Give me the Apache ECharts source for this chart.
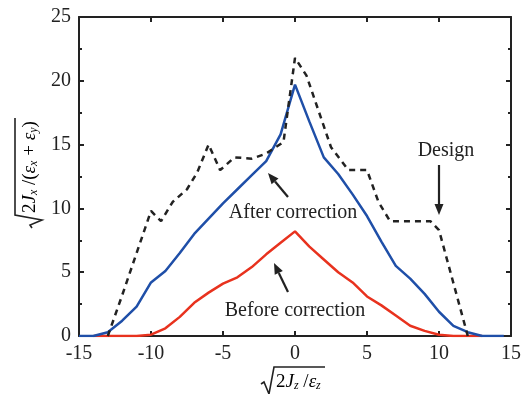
<!DOCTYPE html>
<html>
<head>
<meta charset="utf-8">
<script src="https://cdn.jsdelivr.net/npm/echarts@6/dist/echarts.min.js"></script>
<style>
  html, body { margin: 0; padding: 0; background: #fff; }
  #main { width: 524px; height: 394px; }
</style>
</head>
<body>
<div id="main"></div>
<script>
var X_TICKS = [-15, -10, -5, 0, 5, 10, 15];
var Y_TICKS = [0, 5, 10, 15, 20, 25];

// After correction (blue)
var afterX = [-15, -14, -13, -12, -11, -10, -9, -8, -7, -6, -5, -4, -3, -2, -1, 0, 1, 2, 3, 4, 5, 6, 7, 8, 9, 10, 11, 12, 13, 14.5];
var afterY = [0, 0, 0.3, 1.2, 2.3, 4.2, 5.1, 6.5, 8.0, 9.2, 10.4, 11.5, 12.6, 13.7, 15.8, 19.7, 16.8, 14.0, 12.7, 11.1, 9.4, 7.4, 5.5, 4.5, 3.3, 1.9, 0.8, 0.3, 0, 0];

// Before correction (red)
var beforeX = [-14, -13, -12, -11, -10, -9, -8, -7, -6, -5, -4, -3, -2, -1, 0, 1, 2, 3, 4, 5, 6, 7, 8, 9, 10, 11, 12, 13];
var beforeY = [0, 0, 0, 0, 0.1, 0.6, 1.5, 2.6, 3.4, 4.1, 4.6, 5.4, 6.4, 7.3, 8.2, 7.0, 6.0, 5.0, 4.2, 3.1, 2.4, 1.6, 0.8, 0.4, 0.1, 0, 0, 0];

// Design (black dashed)
var designX = [-13, -12, -11, -10, -9.3, -8.5, -7.5, -6.8, -6, -5.2, -4.2, -3, -2, -0.8, 0, 0.8, 2.5, 3.7, 5, 5.8, 6.6, 9.4, 10, 12];
var designY = [0, 3.2, 6.5, 9.8, 9.0, 10.5, 11.5, 12.8, 15.0, 13.0, 14.0, 13.9, 14.3, 15.2, 21.8, 20.4, 14.8, 13.0, 13.0, 10.5, 9.0, 9.0, 8.3, 0];

function pairs(xs, ys) {
  return xs.map(function (x, i) { return [x, ys[i]]; });
}

var FONT = "Liberation Serif";
var AXIS_COLOR = "#222";

// arrow = line + little triangle at the tip
function arrow(x1, y1, x2, y2) {
  var a = Math.atan2(y2 - y1, x2 - x1);
  var len = 11, half = 4.5;
  var bx = x2 - len * Math.cos(a), by = y2 - len * Math.sin(a);
  return [
    { type: "line", shape: { x1: x1, y1: y1, x2: bx, y2: by }, style: { stroke: AXIS_COLOR, lineWidth: 2.2 } },
    {
      type: "polygon",
      shape: {
        points: [
          [x2, y2],
          [bx + half * Math.sin(a), by - half * Math.cos(a)],
          [bx - half * Math.sin(a), by + half * Math.cos(a)],
        ],
      },
      style: { fill: AXIS_COLOR },
    },
  ];
}

var richMath = {
  n: { fontFamily: FONT, fontSize: 19, color: "#222" },
  i: { fontFamily: FONT, fontSize: 19, fontStyle: "italic", color: "#222" },
  s: { fontFamily: FONT, fontSize: 12, fontStyle: "italic", color: "#222", verticalAlign: "bottom", padding: [8, 0, 0, 0] },
};

function sqrtLabel(text, width) {
  // radical sign drawn around the text, centred at the group origin
  var left = -width / 2;
  return [
    {
      type: "polyline",
      shape: { points: [[left - 12, 2], [left - 9, 0], [left - 4, 12], [left + 1, -15], [width / 2 + 2, -15]] },
      style: { stroke: "#222", lineWidth: 1.6, fill: null },
    },
    {
      type: "text",
      x: left + 3,
      y: 0,
      style: { text: text, rich: richMath, verticalAlign: "middle", align: "left" },
    },
  ];
}

var chart = echarts.init(document.getElementById("main"));

var baseAxis = {
  axisLine: { show: true, onZero: false, lineStyle: { color: AXIS_COLOR, width: 2 } },
  axisTick: { show: true, inside: true, length: 5, lineStyle: { color: AXIS_COLOR, width: 2 } },
  splitLine: { show: false },
};

var option = {
  animation: false,
  grid: { left: 79, right: 7, top: 17, bottom: 58 },
  xAxis: [
    Object.assign({}, baseAxis, {
      type: "value",
      min: X_TICKS[0],
      max: X_TICKS[X_TICKS.length - 1],
      interval: 5,
      axisLabel: { color: "#222", fontFamily: FONT, fontSize: 20, margin: 8 },
    }),
    Object.assign({}, baseAxis, {
      type: "value",
      position: "top",
      min: X_TICKS[0],
      max: X_TICKS[X_TICKS.length - 1],
      interval: 5,
      axisLabel: { show: false },
    }),
  ],
  yAxis: [
    Object.assign({}, baseAxis, {
      type: "value",
      min: Y_TICKS[0],
      max: Y_TICKS[Y_TICKS.length - 1],
      interval: 5,
      minorTick: { show: true, splitNumber: 2, length: 3, lineStyle: { color: AXIS_COLOR, width: 2 } },
      axisLabel: { color: "#222", fontFamily: FONT, fontSize: 20, margin: 8 },
    }),
    Object.assign({}, baseAxis, {
      type: "value",
      position: "right",
      min: Y_TICKS[0],
      max: Y_TICKS[Y_TICKS.length - 1],
      interval: 5,
      minorTick: { show: true, splitNumber: 2, length: 3, lineStyle: { color: AXIS_COLOR, width: 2 } },
      axisLabel: { show: false },
    }),
  ],
  series: [
    {
      name: "Before correction",
      type: "line",
      data: pairs(beforeX, beforeY),
      showSymbol: false,
      lineStyle: { color: "#e8321e", width: 2.5 },
    },
    {
      name: "After correction",
      type: "line",
      data: pairs(afterX, afterY),
      showSymbol: false,
      lineStyle: { color: "#1f4fa8", width: 2.5 },
    },
    {
      name: "Design",
      type: "line",
      data: pairs(designX, designY),
      showSymbol: false,
      lineStyle: { color: "#222", width: 2.5, type: [6, 5] },
    },
  ],
  graphic: [
    { type: "text", x: 446, y: 151, style: { text: "Design", font: "20px " + FONT, fill: "#222", align: "center", verticalAlign: "middle" } },
    { type: "text", x: 293, y: 213, style: { text: "After correction", font: "20px " + FONT, fill: "#222", align: "center", verticalAlign: "middle" } },
    { type: "text", x: 295, y: 311, style: { text: "Before correction", font: "20px " + FONT, fill: "#222", align: "center", verticalAlign: "middle" } },
    // x axis title
    { type: "group", x: 298, y: 382, children: sqrtLabel("{n|2}{i|J}{s|z}{n| /}{i|ε}{s|z}", 50) },
    // y axis title, rotated to read bottom to top
    { type: "group", x: 30, y: 168, rotation: Math.PI / 2, children: sqrtLabel("{n|2}{i|J}{s|x}{n| /(}{i|ε}{s|x}{n| + }{i|ε}{s|y}{n|)}", 96) },
  ]
    .concat(arrow(439, 165, 439, 215))
    .concat(arrow(288, 197, 268, 173))
    .concat(arrow(288, 292, 274, 263)),
};

chart.setOption(option);
</script>
</body>
</html>
